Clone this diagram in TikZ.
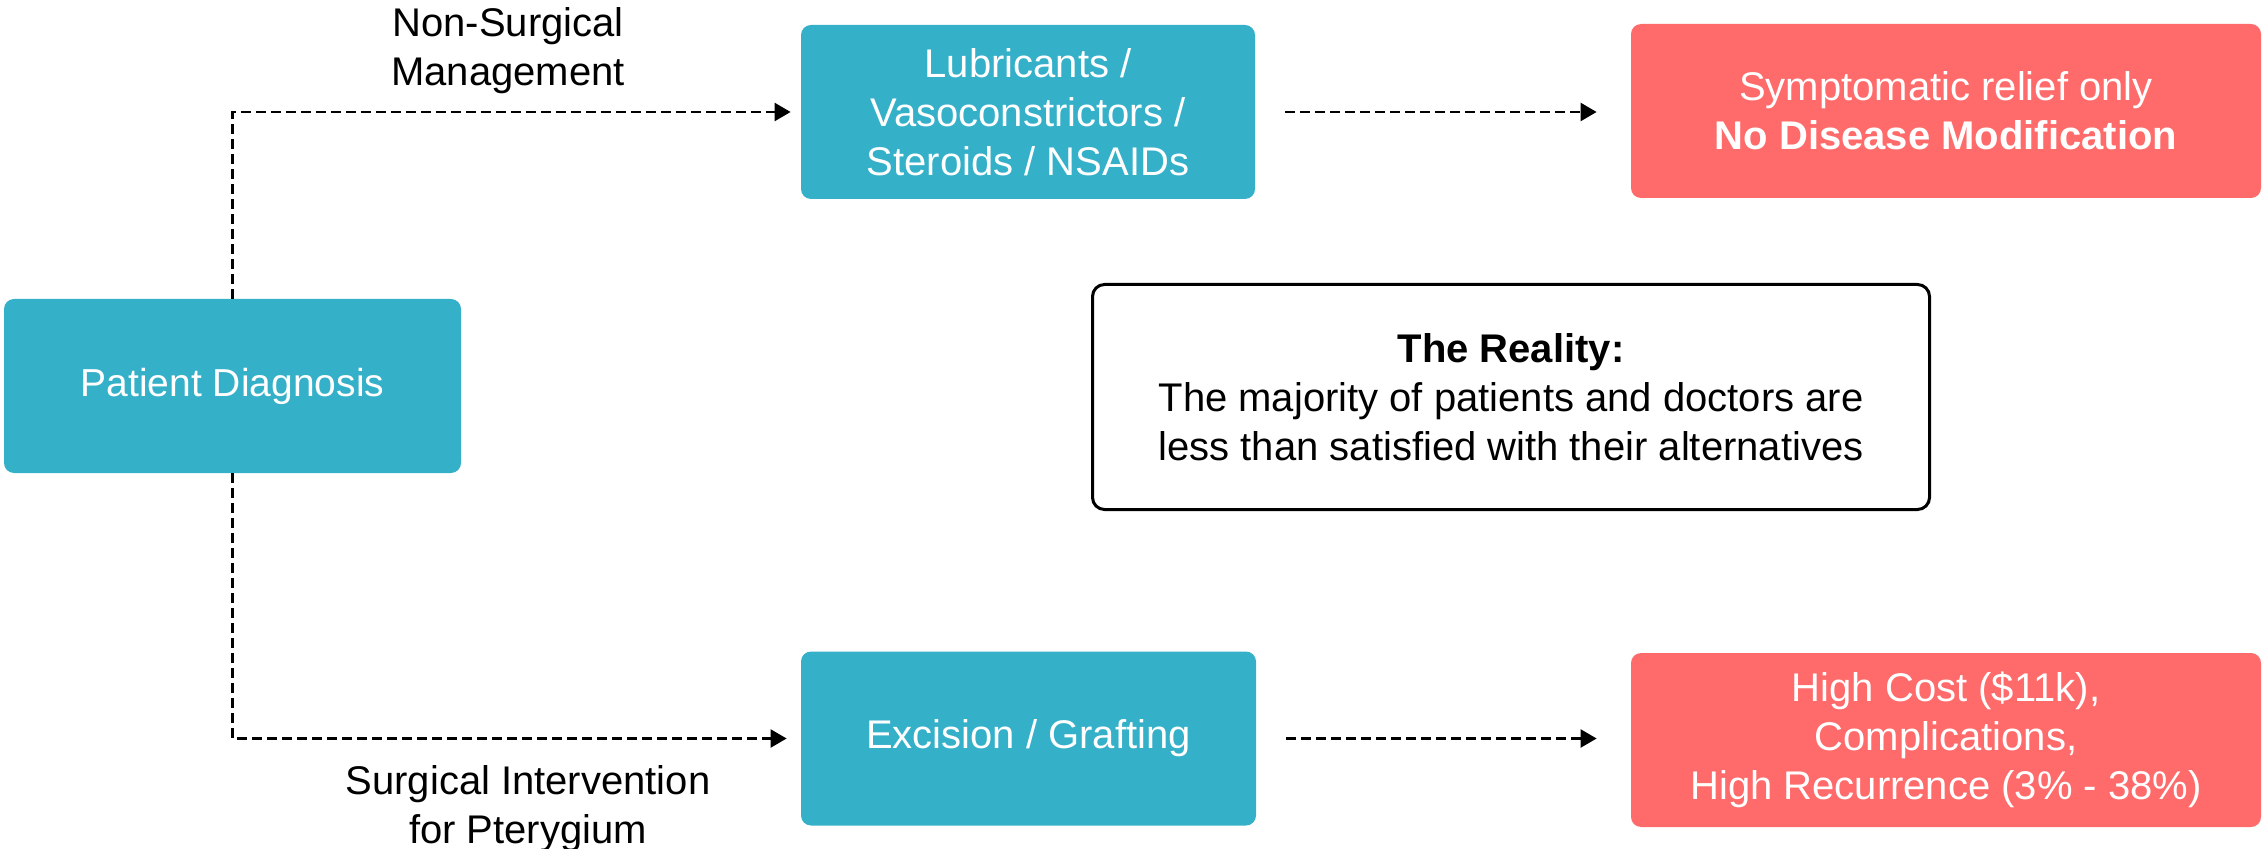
\documentclass[tikz,border=0pt]{standalone}
\usepackage{fontspec}
\setmainfont{Liberation Sans}
\usetikzlibrary{arrows.meta}
\definecolor{teal}{HTML}{35B0C9}
\definecolor{coral}{HTML}{FF6B6B}
\begin{document}
\begin{tikzpicture}[x=0.5pt,y=-0.5pt,
  txt/.style={font=\fontsize{20pt}{24.5pt}\selectfont, align=center, inner sep=0pt},
  tealbox/.style={txt, fill=teal, text=white, rounded corners=5pt, minimum height=87pt},
  redbox/.style={txt, fill=coral, text=white, rounded corners=5pt, minimum width=315pt, minimum height=87pt},
  flow/.style={line width=1.2pt, dash pattern=on 5pt off 2.5pt, -{Triangle[length=8pt,width=9pt]}}
]
\useasboundingbox (0,0) rectangle (2262,849);
\node[tealbox, minimum width=228.5pt] (diag) at (232.5,386) {\fontsize{19.5pt}{24.5pt}\selectfont Patient Diagnosis};
\node[tealbox, minimum width=227pt] (lub) at (1028,112) {Lubricants /\\Vasoconstrictors /\\Steroids / NSAIDs};
\node[tealbox, minimum width=227.5pt] (exc) at (1028.5,738.5) {Excision / Grafting};
\node[redbox] (sym) at (1946,111) {Symptomatic relief only\\\textbf{No Disease Modification}};
\node[redbox] (high) at (1946,740) {High Cost (\$11k),\\Complications,\\High Recurrence (3\% - 38\%)};
\node[txt, draw=black, line width=1.5pt, rounded corners=6pt, minimum width=418.5pt, minimum height=112.5pt] (real) at (1511,397)
  {\textbf{The Reality:}\\The majority of patients and doctors are\\less than satisfied with their alternatives};
\node[txt] (nsm) at (508,51) {Non-Surgical\\Management};
\node[txt] (sis) at (528,809) {Surgical Intervention\\for Pterygium};
\draw[flow, shorten >=5pt] (diag.north) |- (lub.west);
\draw[flow, shorten >=7pt] (diag.south) |- (exc.west);
\draw[flow, shorten <=15pt, shorten >=17pt] (lub.east) -- (sym.west |- lub.east);
\draw[flow, shorten <=15pt, shorten >=17pt] (exc.east) -- (high.west |- exc.east);
\end{tikzpicture}
\end{document}
